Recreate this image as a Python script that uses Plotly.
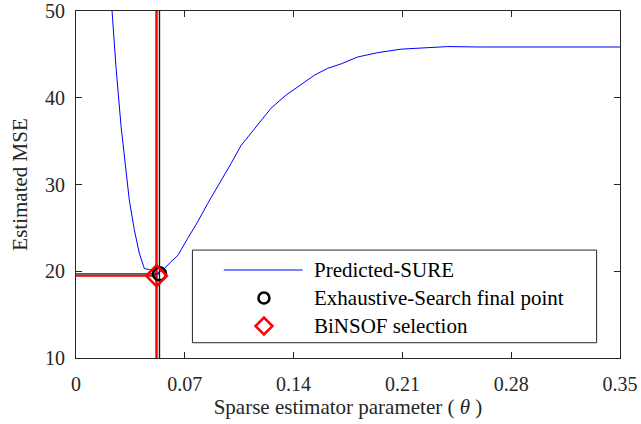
import plotly.graph_objects as go

# Predicted SURE curve: estimated MSE versus sparse estimator parameter theta
theta = [0.0232, 0.0257, 0.0290, 0.0322, 0.0343, 0.0375, 0.0407, 0.0440, 0.0472,
         0.0525, 0.0568, 0.0611, 0.0654, 0.0719, 0.0783, 0.0847, 0.0901, 0.0954,
         0.0997, 0.1062, 0.1158, 0.1255, 0.1351, 0.1448, 0.1534, 0.1620, 0.1705,
         0.1813, 0.1941, 0.2091, 0.2263, 0.2392, 0.2600, 0.3000, 0.3500]
mse = [50.0, 43.6, 36.7, 31.3, 28.2, 24.8, 22.1, 20.3, 20.2,
       19.8, 20.3, 21.1, 21.8, 23.8, 25.7, 27.8, 29.4, 31.1,
       32.4, 34.5, 36.7, 38.8, 40.3, 41.5, 42.6, 43.4, 43.9,
       44.7, 45.2, 45.6, 45.8, 45.9, 45.85, 45.85, 45.85]

# Selected operating points
exhaustive_theta, exhaustive_mse = 0.0537, 19.70
binsof_theta, binsof_mse = 0.0518, 19.48

x_ticks = [0, 0.07, 0.14, 0.21, 0.28, 0.35]
x_tick_labels = ["0", "0.07", "0.14", "0.21", "0.28", "0.35"]
y_ticks = [10, 20, 30, 40, 50]

legend_labels = ["Predicted-SURE", "Exhaustive-Search final point", "BiNSOF selection"]

FONT = "Times New Roman, Liberation Serif, Times, serif"
AX = "#262626"

fig = go.Figure()

fig.add_trace(go.Scatter(x=theta, y=mse, mode="lines",
                         line=dict(color="#0000ff", width=1), showlegend=False))

# guide lines through the selected points
fig.add_trace(go.Scatter(x=[binsof_theta, binsof_theta], y=[10, 50], mode="lines",
                         line=dict(color="#ff0000", width=2.5), showlegend=False))
fig.add_trace(go.Scatter(x=[0, binsof_theta], y=[binsof_mse, binsof_mse], mode="lines",
                         line=dict(color="#ff0000", width=2.2), showlegend=False))
fig.add_trace(go.Scatter(x=[exhaustive_theta, exhaustive_theta], y=[10, 50], mode="lines",
                         line=dict(color="#1a1a1a", width=1.4), showlegend=False))
fig.add_trace(go.Scatter(x=[0, exhaustive_theta], y=[exhaustive_mse, exhaustive_mse], mode="lines",
                         line=dict(color="#1a1a1a", width=1.2), showlegend=False))

circle_marker = dict(symbol="circle-open", size=13, color="#000000", line=dict(width=2.5, color="#000000"))
diamond_marker = dict(symbol="diamond-open", size=16, color="#ff0000", line=dict(width=2.5, color="#ff0000"))

fig.add_trace(go.Scatter(x=[exhaustive_theta], y=[exhaustive_mse], mode="markers",
                         marker=circle_marker, showlegend=False))
fig.add_trace(go.Scatter(x=[binsof_theta], y=[binsof_mse], mode="markers",
                         marker=diamond_marker, showlegend=False))

# legend box drawn on an overlay axis spanning the plot area
leg_x0, leg_x1, leg_y0, leg_y1 = 0.214, 0.957, 0.044, 0.311
row_y = [0.2536, 0.1729, 0.0922]
sample_x0, sample_x1, marker_x, text_x = 0.2716, 0.4165, 0.3455, 0.433

fig.add_shape(type="rect", xref="x2", yref="y2", x0=leg_x0, x1=leg_x1, y0=leg_y0, y1=leg_y1,
              line=dict(color=AX, width=1), fillcolor="rgba(0,0,0,0)", layer="below")
fig.add_trace(go.Scatter(x=[sample_x0, sample_x1], y=[row_y[0], row_y[0]], mode="lines",
                         line=dict(color="#0000ff", width=1), xaxis="x2", yaxis="y2",
                         showlegend=False))
fig.add_trace(go.Scatter(x=[marker_x], y=[row_y[1]], mode="markers",
                         marker=dict(symbol="circle-open", size=11, color="#000000",
                                     line=dict(width=2.5, color="#000000")),
                         xaxis="x2", yaxis="y2", showlegend=False))
fig.add_trace(go.Scatter(x=[marker_x], y=[row_y[2]], mode="markers",
                         marker=dict(symbol="diamond-open", size=13, color="#ff0000",
                                     line=dict(width=2.5, color="#ff0000")),
                         xaxis="x2", yaxis="y2", showlegend=False))
for label, ry in zip(legend_labels, row_y):
    fig.add_annotation(x=text_x, y=ry, xref="x2", yref="y2", text=label, showarrow=False,
                       xanchor="left", yanchor="middle", font=dict(family=FONT, size=21, color="#000000"))

fig.update_layout(
    width=641, height=424,
    margin=dict(l=76, r=21, t=11, b=66),
    paper_bgcolor="white", plot_bgcolor="white",
    font=dict(family=FONT, size=20, color="#262626"),
    xaxis=dict(range=[0, 0.35], tickvals=x_ticks, ticktext=x_tick_labels,
               ticks="inside", ticklen=6, tickcolor=AX, showline=True, linecolor=AX,
               linewidth=1, mirror="ticks", showgrid=False, zeroline=False,
               ticklabelstandoff=8, automargin=False,
               tickfont=dict(family=FONT, size=20, color="#262626"),
               title=dict(text="Sparse estimator parameter ( <i>θ</i> )",
                          font=dict(family=FONT, size=21, color="#262626"), standoff=2)),
    yaxis=dict(range=[10, 50], tickvals=y_ticks, ticks="inside", ticklen=6, tickcolor=AX,
               showline=True, linecolor=AX, linewidth=1, mirror="ticks", showgrid=False,
               zeroline=False, ticklabelstandoff=6, automargin=False,
               tickfont=dict(family=FONT, size=20, color="#262626"),
               title=dict(text="Estimated MSE", font=dict(family=FONT, size=21, color="#262626"),
                          standoff=11)),
    xaxis2=dict(range=[0, 1], overlaying="x", visible=False, anchor="y2"),
    yaxis2=dict(range=[0, 1], overlaying="y", visible=False, anchor="x2"),
)

fig.write_html("out.html")
